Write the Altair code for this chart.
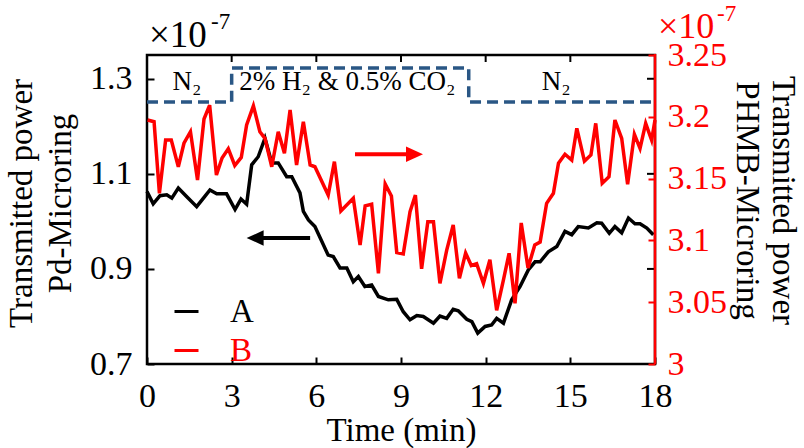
import altair as alt
import pandas as pd

# Pd-microring transmitted power (x 1e-7), left axis
time_a = [0.0, 0.22, 0.46, 0.70, 0.88, 1.11, 1.41, 1.76, 2.0, 2.23, 2.47, 2.82,
          3.12, 3.33, 3.53, 3.71, 3.94, 4.18, 4.42, 4.65, 4.95, 5.13, 5.42, 5.54,
          5.72, 5.95, 6.42, 6.60, 6.84, 7.08, 7.31, 7.49, 7.72, 7.96, 8.20, 8.55,
          8.85, 9.08, 9.32, 9.56, 9.79, 10.15, 10.38, 10.62, 10.85, 11.03, 11.33,
          11.51, 11.72, 11.98, 12.21, 12.39, 12.63, 12.92, 13.22, 13.51, 13.75,
          13.93, 14.22, 14.52, 14.81, 15.05, 15.28, 15.64, 15.94, 16.11, 16.38,
          16.58, 16.82, 17.06, 17.29, 17.47, 17.71, 17.94]
power_a = [1.063, 1.037, 1.054, 1.056, 1.049, 1.070, 1.052, 1.031, 1.049, 1.066,
           1.058, 1.058, 1.025, 1.047, 1.036, 1.119, 1.136, 1.175, 1.123, 1.123,
           1.094, 1.094, 1.060, 1.021, 1.003, 0.989, 0.929, 0.926, 0.902, 0.902,
           0.873, 0.884, 0.863, 0.866, 0.842, 0.835, 0.836, 0.810, 0.793, 0.802,
           0.800, 0.786, 0.801, 0.796, 0.815, 0.812, 0.794, 0.789, 0.765, 0.779,
           0.782, 0.796, 0.786, 0.835, 0.863, 0.898, 0.915, 0.915, 0.936, 0.947,
           0.979, 0.972, 0.989, 0.986, 0.997, 0.996, 0.975, 0.989, 0.976, 1.007,
           0.995, 0.995, 0.986, 0.972]

# PHMB-microring transmitted power (x 1e-7), right axis
time_b = [0.02, 0.25, 0.44, 0.66, 0.86, 1.11, 1.31, 1.54, 1.79, 2.02, 2.22, 2.46,
          2.66, 2.88, 3.11, 3.34, 3.53, 3.77, 4.00, 4.18, 4.42, 4.65, 4.87, 5.07,
          5.30, 5.54, 5.78, 5.95, 6.42, 6.64, 6.87, 7.31, 7.55, 7.73, 7.96, 8.20,
          8.44, 8.66, 8.85, 9.08, 9.32, 9.51, 9.73, 9.95, 10.15, 10.38, 10.62,
          10.85, 11.07, 11.29, 11.49, 11.68, 11.92, 12.15, 12.39, 12.63, 12.83,
          13.04, 13.26, 13.50, 13.74, 13.93, 14.16, 14.40, 14.58, 14.81, 15.05,
          15.23, 15.50, 15.73, 15.90, 16.13, 16.37, 16.58, 16.82, 17.03, 17.27,
          17.47, 17.67, 17.88, 18.0]
power_b = [3.1974, 3.1960, 3.1381, 3.1812, 3.1812, 3.1596, 3.1786, 3.1879, 3.1489,
           3.1982, 3.2095, 3.1529, 3.1667, 3.1742, 3.1606, 3.1671, 3.1934, 3.2089,
           3.1879, 3.1826, 3.1596, 3.1879, 3.1705, 3.2055, 3.1610, 3.1960, 3.1610,
           3.1596, 3.1367, 3.1637, 3.1238, 3.1341, 3.0963, 3.1280, 3.1293, 3.0734,
           3.1456, 3.1359, 3.0902, 3.0890, 3.1232, 3.1367, 3.0770, 3.1151, 3.1151,
           3.0653, 3.0922, 3.1125, 3.0693, 3.0898, 3.0797, 3.0811, 3.0653, 3.0844,
           3.0434, 3.0680, 3.0896, 3.0491, 3.1141, 3.0777, 3.0963, 3.0987, 3.1300,
           3.1381, 3.1624, 3.1697, 3.1650, 3.1907, 3.1642, 3.1691, 3.1947, 3.1462,
           3.1515, 3.1974, 3.1826, 3.1454, 3.1858, 3.1745, 3.1947, 3.1812, 3.1974]

# Gas switching sequence (dashed step), drawn on the left scale
gas_time = [0, 3, 11.4, 18]
gas_level = [1.251, 1.3225, 1.251, 1.251]
gas_label_time = [1.42, 7.1, 14.5]
gas_label_level = [1.277, 1.277, 1.277]
gas_labels = ["N\u2082", "2% H\u2082 & 0.5% CO\u2082", "N\u2082"]

# Arrows pointing each curve to its axis: tail and tip times, level
arrow_a_time = [5.78, 3.53]
arrow_a_level = 0.965
arrow_b_time = [7.37, 9.78]
arrow_b_level = 3.1697

x_ticks = [0, 3, 6, 9, 12, 15, 18]
a_ticks = [0.7, 0.9, 1.1, 1.3]
b_ticks = [3.0, 3.05, 3.1, 3.15, 3.2, 3.25]

W, H = 508, 309
TICK = 7
FONT = "Liberation Serif"
BLUE = "#2a5785"
RED = "#ff0000"

x_scale = alt.Scale(domain=[0, 18], nice=False, zero=False)
a_scale = alt.Scale(domain=[0.7, 1.35], nice=False, zero=False)
b_scale = alt.Scale(domain=[3.0, 3.25], nice=False, zero=False)

x_axis = alt.Axis(values=x_ticks, format="d", title="Time (min)", offset=-TICK,
                  tickSize=TICK, domain=False, labelPadding=15, titlePadding=1,
                  labelFlush=False)
x_enc = alt.X("time:Q", scale=x_scale, axis=x_axis)

color_scale = alt.Scale(domain=["A", "B"], range=["#000000", RED])
legend = alt.Legend(
    orient="none", legendX=23, legendY=240, title=None, padding=0,
    symbolType="stroke", symbolSize=576, symbolStrokeWidth=3,
    labelFont=FONT, labelFontSize=33, labelOffset=27, rowPadding=5,
    labelColor={"expr": "datum.label == 'B' ? '#ff0000' : '#000000'"},
)

df_a = pd.DataFrame({"time": time_a, "power": power_a, "series": "A"})
df_b = pd.DataFrame({"time": time_b, "power": power_b, "series": "B"})

line_a = alt.Chart(df_a).mark_line(strokeWidth=3.5).encode(
    x=x_enc,
    y=alt.Y("power:Q", scale=a_scale, axis=alt.Axis(
        orient="left", values=a_ticks, format=".1f",
        title=["Transmitted power", "Pd-Microring"],
        offset=-TICK, tickSize=TICK, domain=False, labelPadding=15,
        labelFlush=False, titlePadding=12, titleLineHeight=39, titleY=148)),
    color=alt.Color("series:N", scale=color_scale, legend=legend),
)

line_b = alt.Chart(df_b).mark_line(strokeWidth=3.5).encode(
    x=x_enc,
    y=alt.Y("power:Q", scale=b_scale, axis=alt.Axis(
        orient="right", values=b_ticks, format=".3~g",
        title=["Transmitted power", "PHMB-Microring"],
        offset=-TICK, tickSize=TICK, domain=False, labelPadding=12,
        labelFlush=False, tickColor=RED, labelColor=RED, titleColor="#000000",
        titlePadding=3, titleLineHeight=36, titleY=145)),
    color=alt.Color("series:N", scale=color_scale, legend=legend),
)

df_gas = pd.DataFrame({"time": gas_time, "level": gas_level})
gas = alt.Chart(df_gas).mark_line(
    interpolate="step-after", strokeDash=[11, 6], strokeWidth=3.5, color=BLUE
).encode(x=x_enc, y=alt.Y("level:Q", scale=a_scale, axis=None))

df_gas_text = pd.DataFrame({"time": gas_label_time, "level": gas_label_level,
                            "label": gas_labels})
gas_text = alt.Chart(df_gas_text).mark_text(
    font=FONT, fontSize=27, baseline="alphabetic", align="center", color="#000000"
).encode(x=x_enc, y=alt.Y("level:Q", scale=a_scale, axis=None), text="label:N")

# Arrow shafts and heads
df_arr_a = pd.DataFrame({"time": [arrow_a_time[0]], "tip": [arrow_a_time[1]],
                         "level": [arrow_a_level]})
df_arr_b = pd.DataFrame({"time": [arrow_b_time[0]], "tip": [arrow_b_time[1]],
                         "level": [arrow_b_level]})
shaft_a = alt.Chart(df_arr_a).mark_rule(strokeWidth=4, color="#000000", x2Offset=12).encode(
    x=x_enc, x2="tip:Q", y=alt.Y("level:Q", scale=a_scale, axis=None))
head_a = alt.Chart(df_arr_a).mark_point(
    shape="M 0 0 L 2 -0.9 L 2 0.9 Z", size=289, filled=True, opacity=1,
    color="#000000", strokeWidth=0
).encode(x=alt.X("tip:Q", scale=x_scale, axis=x_axis),
         y=alt.Y("level:Q", scale=a_scale, axis=None))
shaft_b = alt.Chart(df_arr_b).mark_rule(strokeWidth=4, color=RED, x2Offset=-12).encode(
    x=x_enc, x2="tip:Q", y=alt.Y("level:Q", scale=b_scale, axis=None))
head_b = alt.Chart(df_arr_b).mark_point(
    shape="M 0 0 L -2 -0.9 L -2 0.9 Z", size=289, filled=True, opacity=1,
    color=RED, strokeWidth=0
).encode(x=alt.X("tip:Q", scale=x_scale, axis=x_axis),
         y=alt.Y("level:Q", scale=b_scale, axis=None))

# Inward ticks mirrored on the top edge and on the right edge (left scale)
df_top = pd.DataFrame({"time": x_ticks[1:-1]})
top_ticks = alt.Chart(df_top).mark_rule(strokeWidth=2, color="#000000").encode(
    x=x_enc, y=alt.value(0), y2=alt.value(TICK))
df_rt = pd.DataFrame({"level": a_ticks[1:]})
right_ticks = alt.Chart(df_rt).mark_rule(strokeWidth=2, color="#000000").encode(
    y=alt.Y("level:Q", scale=a_scale, axis=None), x=alt.value(W - TICK - 1), x2=alt.value(W - 1))

one = pd.DataFrame({"k": [0]})
red_spine = alt.Chart(one).mark_rule(strokeWidth=2.5, color=RED).encode(
    x=alt.value(W), y=alt.value(-1), y2=alt.value(H))

# Exponent multipliers above each axis
mult_a = alt.Chart(one).mark_text(font=FONT, fontSize=37, align="left",
                                  baseline="alphabetic", color="#000000").encode(
    x=alt.value(2), y=alt.value(-8), text=alt.value("\u00d710"))
exp_a = alt.Chart(one).mark_text(font=FONT, fontSize=23, align="left",
                                 baseline="alphabetic", color="#000000").encode(
    x=alt.value(64), y=alt.value(-26), text=alt.value("-7"))
mult_b = alt.Chart(one).mark_text(font=FONT, fontSize=36, align="left",
                                  baseline="alphabetic", color=RED).encode(
    x=alt.value(511), y=alt.value(-17), text=alt.value("\u00d710"))
exp_b = alt.Chart(one).mark_text(font=FONT, fontSize=23, align="left",
                                 baseline="alphabetic", color=RED).encode(
    x=alt.value(570), y=alt.value(-34), text=alt.value("-7"))

chart = alt.layer(
    gas, gas_text, line_a, line_b, shaft_a, head_a, shaft_b, head_b,
    top_ticks, right_ticks, red_spine, mult_a, exp_a, mult_b, exp_b,
).resolve_scale(y="independent").properties(
    width=W, height=H,
    autosize=alt.AutoSizeParams(type="none"),
    padding={"left": 147, "top": 55, "right": 149, "bottom": 84},
    background="white",
).configure_view(
    stroke="#000000", strokeWidth=2.5,
).configure_axis(
    grid=False, labelFont=FONT, labelFontSize=34, labelColor="#000000",
    titleFont=FONT, titleFontSize=33, titleFontWeight="normal", titleColor="#000000",
    tickColor="#000000", tickWidth=2,
)

chart.save("out.html", embed_options={"renderer": "svg", "actions": False})
